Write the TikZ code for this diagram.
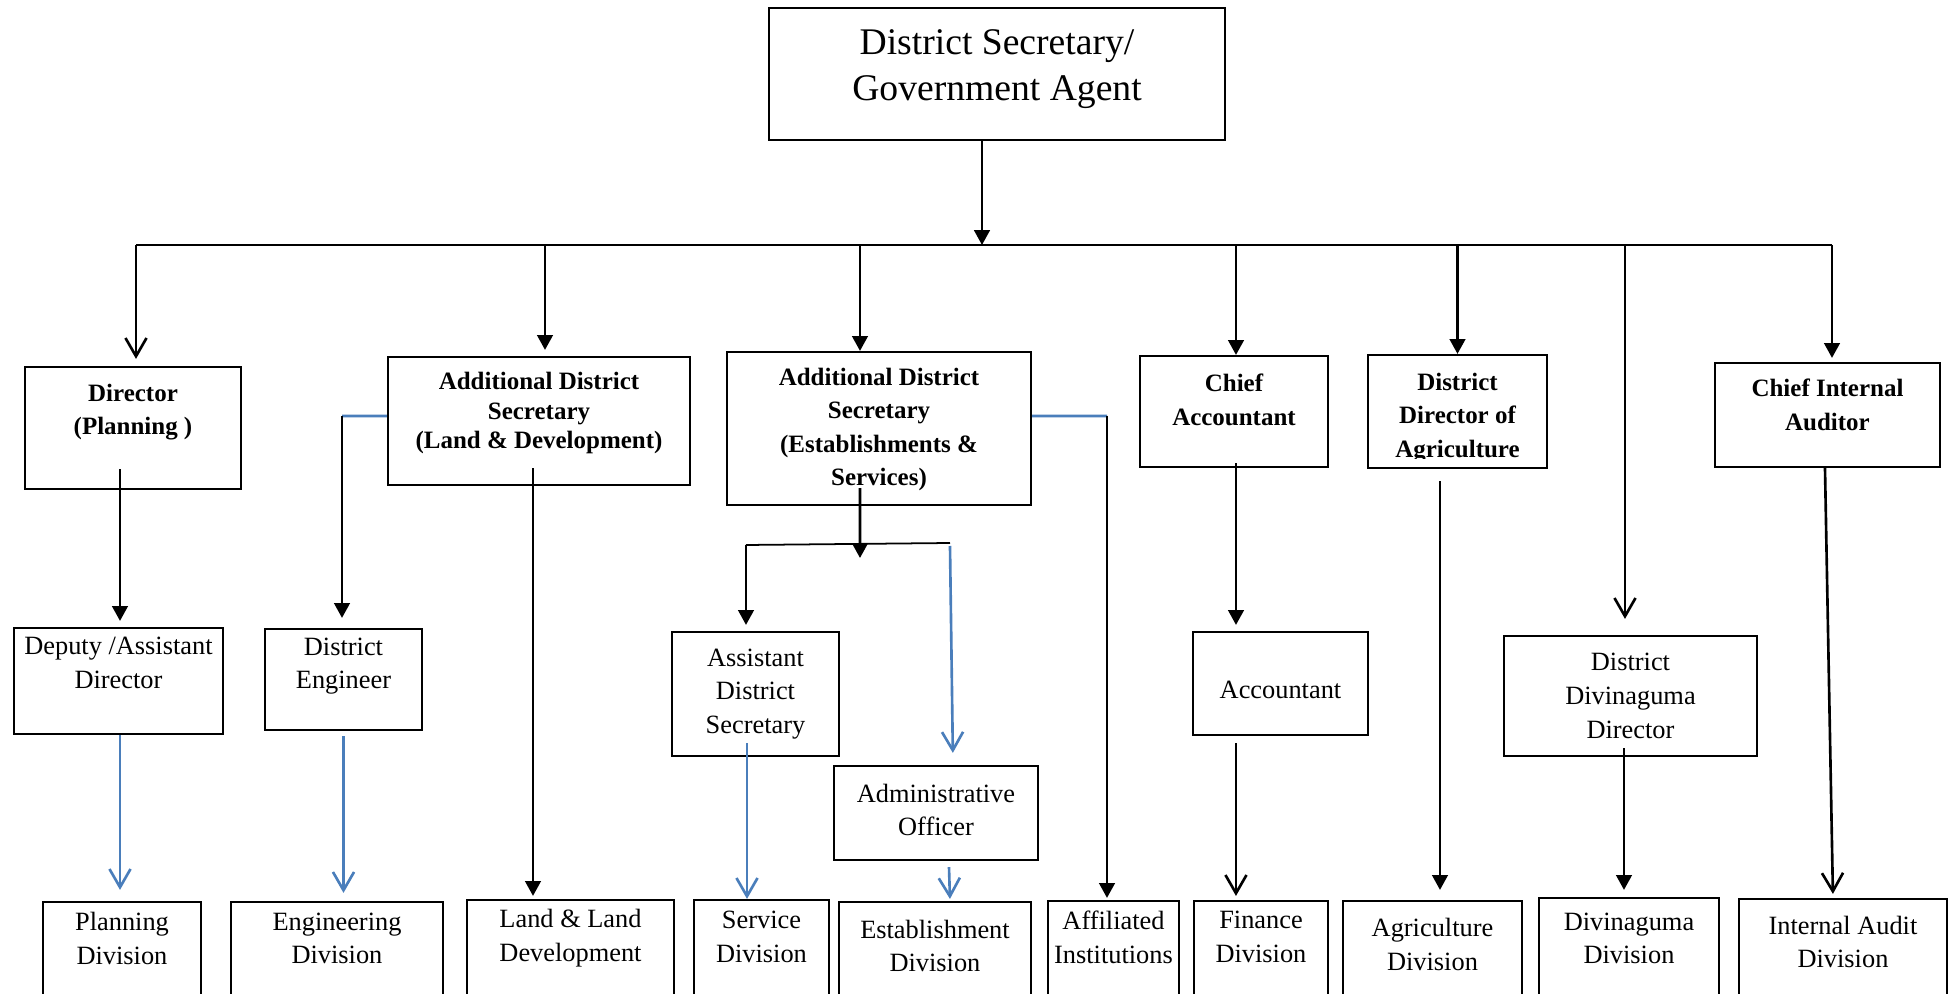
\documentclass[tikz,border=0pt]{standalone}
\usepackage{fontspec}
\setmainfont{Liberation Serif}
\usetikzlibrary{arrows.meta}
\definecolor{lineblue}{RGB}{74,126,187}

\begin{document}
\begin{tikzpicture}[x=0.01cm, y=-0.01cm,
        box/.style={draw, line width=0.6pt, inner sep=0},
        ttxt/.style={align=center, inner sep=0, font=\fontsize{10.7}{13.1}\selectfont},
        btxt/.style={align=center, inner sep=0, font=\bfseries\fontsize{7.1}{9.5}\selectfont},
        rtxt/.style={align=center, inner sep=0, font=\fontsize{7.5}{9.6}\selectfont},
        link/.style={line width=0.75pt},
        arr/.style={link, -{Triangle[length=4.2pt,width=4.4pt]}},
        oarr/.style={link, -{Straight Barb[length=5.2pt,width=6pt]}},
        blink/.style={lineblue, line width=0.75pt},
        barr/.style={blink, -{Straight Barb[length=5.2pt,width=6pt]}}]
            \useasboundingbox (0,0) rectangle (1953,994);
            \clip (0,0) rectangle (1953,994);

            \node[box, minimum width=4.56cm, minimum height=1.32cm] (top) at (997,74) {};
            \node[ttxt] (top-t) at (997,69) {District Secretary/\\Government Agent};

            \foreach \n/\cx/\cy/\w/\h/\ty/\txt in {
                dir/133/428/2.16cm/1.22cm/412/{Director\\(Planning )},
                adsl/539/421/3.02cm/1.28cm/413/{Additional District\\[-1.1pt]Secretary\\[-1.1pt](Land \& Development)},
                adse/879/428.5/3.04cm/1.53cm/429.5/{Additional District\\Secretary\\(Establishments \&\\Services)},
                chacc/1234/411.5/1.88cm/1.11cm/400/{Chief\\Accountant},
                cia/1827.5/415/2.25cm/1.04cm/405/{Chief Internal\\Auditor}}{
                \node[box, minimum width=\w, minimum height=\h] (\n) at (\cx,\cy) {};
                \node[btxt] (\n-t) at (\cx,\ty) {\txt};
            }

            \node[box, minimum width=1.79cm, minimum height=1.13cm] (dda) at (1457.5,411.5) {};
            \begin{scope}
                \clip (dda.north west) rectangle ([yshift=0.11cm]dda.south east);
                \node[btxt] (dda-t) at (1457.5,418) {District\\Director of\\Agriculture};
            \end{scope}

            \foreach \n/\cx/\cy/\w/\h/\ty/\txt in {
                dep/118.5/681/2.09cm/1.06cm/663/{Deputy /Assistant\\Director},
                deng/343.5/679.5/1.57cm/1.01cm/666/{District\\Engineer},
                asd/755.5/694/1.67cm/1.24cm/694/{Assistant\\District\\Secretary},
                ao/936/813/2.04cm/0.94cm/810/{Administrative\\Officer},
                acct/1280.5/683.5/1.75cm/1.03cm/690/{Accountant},
                ddd/1630.5/696/2.53cm/1.20cm/696/{District\\Divinaguma\\Director},
                plan/122/961/1.58cm/1.18cm/938.5/{Planning\\Division},
                eng/337/961/2.12cm/1.18cm/938.5/{Engineering\\Division},
                land/570.5/960/2.07cm/1.20cm/938/{Land \& Land\\Development},
                serv/761.5/960/1.35cm/1.20cm/937/{Service\\Division},
                est/935/961/1.92cm/1.18cm/946/{Establishment\\Division},
                aff/1113.5/960.5/1.31cm/1.19cm/937/{Affiliated\\Institutions},
                fin/1261/960.5/1.34cm/1.19cm/937/{Finance\\Division},
                agri/1432.5/960.5/1.79cm/1.19cm/944.5/{Agriculture\\Division},
                divd/1629/959/1.80cm/1.22cm/938.5/{Divinaguma\\Division},
                iad/1843/959.5/2.08cm/1.21cm/942/{Internal Audit\\Division}}{
                \node[box, minimum width=\w, minimum height=\h] (\n) at (\cx,\cy) {};
                \node[rtxt] (\n-t) at (\cx,\ty) {\txt};
            }

            \coordinate (busL) at (136,245);
            \coordinate (busR) at (1832,245);
            \draw[link] (busL) -- (busR);
            \draw[arr] ([xshift=-0.15cm]top.south) -- ([xshift=-0.15cm]top.south |- busL);

            \draw[oarr, shorten >=0.07cm] ([xshift=0.03cm]dir.north |- busL) -- ([xshift=0.03cm]dir.north);
            \draw[arr, shorten >=0.06cm] ([xshift=0.06cm]adsl.north |- busL) -- ([xshift=0.06cm]adsl.north);
            \draw[arr] ([xshift=-0.19cm]adse.north |- busL) -- ([xshift=-0.19cm]adse.north);
            \draw[arr] ([xshift=0.02cm]chacc.north |- busL) -- ([xshift=0.02cm]chacc.north);
            \draw[arr] (dda.north |- busL) -- (dda.north);
            \draw[oarr, shorten >=0.16cm] ([xshift=-0.055cm]ddd.north |- busL) -- ([xshift=-0.055cm]ddd.north);
            \draw[arr, shorten >=0.04cm] ([xshift=0.045cm]cia.north |- busL) -- ([xshift=0.045cm]cia.north);

            \draw[arr, shorten >=0.06cm] ([xshift=-0.13cm,yshift=0.21cm]dir.south) -- ([xshift=-0.13cm]dir.south |- dep.north);
            \coordinate (kneeL) at (342,416);
            \draw[blink] ([yshift=0.05cm]adsl.west) -- (kneeL);
            \draw[arr, shorten >=0.1cm] (kneeL) -- (kneeL |- deng.north);
            \draw[arr, shorten >=0.03cm] ([xshift=-0.06cm,yshift=0.18cm]adsl.south) -- ([xshift=-0.06cm]adsl.south |- land.north);

            \coordinate (splitL) at (746,545);
            \coordinate (splitR) at (950,543);
            \coordinate (splitTip) at (860,558);
            \draw[line width=0.5pt] (splitL) -- (splitR);
            \draw[arr] ([xshift=-0.19cm,yshift=0.18cm]adse.south) -- (splitTip);
            \draw[arr, shorten >=0.06cm] (splitL) -- (splitL |- asd.north);
            \draw[barr, shorten >=0.12cm] ([yshift=-0.03cm]splitR) -- ([xshift=0.17cm]ao.north);
            \coordinate (kneeR) at (1107,416);
            \draw[blink] ([yshift=0.125cm]adse.east) -- (kneeR);
            \draw[arr, shorten >=0.02cm] (kneeR) -- (kneeR |- aff.north);

            \draw[arr, shorten >=0.06cm] ([xshift=0.02cm,yshift=0.05cm]chacc.south) -- ([xshift=0.02cm]chacc.south |- acct.north);
            \draw[oarr, shorten >=0.04cm] ([xshift=-0.445cm,yshift=-0.07cm]acct.south) -- ([xshift=-0.445cm]acct.south |- fin.north);
            \draw[arr, shorten >=0.1cm] ([xshift=-0.175cm,yshift=-0.12cm]dda.south) -- ([xshift=-0.175cm]dda.south |- agri.north);
            \draw[arr, shorten >=0.07cm] ([xshift=-0.065cm,yshift=0.09cm]ddd.south) -- ([xshift=-0.065cm]ddd.south |- divd.north);
            \draw[oarr, shorten >=0.04cm] ([xshift=-0.025cm]cia.south) -- ([xshift=-0.1cm]iad.north);

            \draw[barr, shorten >=0.11cm] ([xshift=0.015cm]dep.south) -- ([xshift=0.015cm]dep.south |- plan.north);
            \draw[barr, shorten >=0.08cm] ([yshift=-0.05cm]deng.south) -- (deng.south |- eng.north);
            \draw[barr] ([xshift=-0.085cm,yshift=0.14cm]asd.south) -- ([xshift=-0.085cm]asd.south |- serv.north);
            \draw[barr, shorten >=0.02cm] ([xshift=0.13cm,yshift=-0.06cm]ao.south) -- ([xshift=0.15cm]est.north);
        \end{tikzpicture}
\end{document}
